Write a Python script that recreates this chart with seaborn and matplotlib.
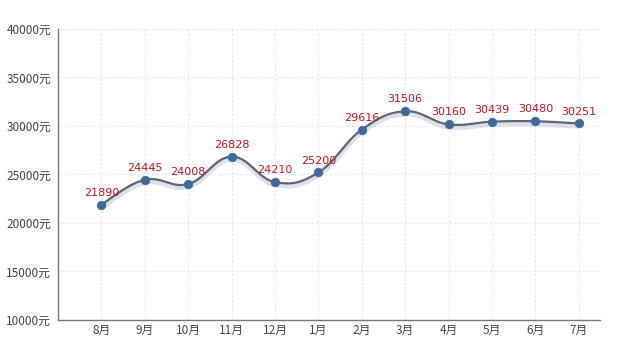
import numpy as np
import pandas as pd
import matplotlib
matplotlib.use("Agg")
import matplotlib.pyplot as plt
import seaborn as sns

months = ["8月", "9月", "10月", "11月", "12月", "1月", "2月", "3月", "4月", "5月", "6月", "7月"]
prices = [21890, 24445, 24008, 26828, 24210, 25200, 29616, 31506, 30160, 30439, 30480, 30251]
yticks = [10000, 15000, 20000, 25000, 30000, 35000, 40000]
ytick_labels = [f"{v}元" for v in yticks]

sns.set_style("white")
plt.rcParams['font.family'] = ['Noto Sans CJK SC', 'DejaVu Sans']

fig = plt.figure(figsize=(6.2, 3.48), dpi=100)
ax = fig.add_axes([0.0935, 0.0805, 0.875, 0.8365])

df = pd.DataFrame({"x": np.arange(1, len(months) + 1), "price": prices})

# smooth rendering of the line (bezier through the data points, like a "smooth" line style)
def smooth(x, y, s=0.2, n=30):
    p = np.column_stack([np.asarray(x, float), np.asarray(y, float)])
    m = len(p)
    out = []
    t = np.linspace(0, 1, n)[:, None]
    for i in range(m - 1):
        p0 = p[i]; p3 = p[i + 1]
        prev = p[i - 1] if i > 0 else p[i]
        nxt = p[i + 2] if i + 2 < m else p[i + 1]
        c1 = p0 + (p3 - prev) * s
        c2 = p3 - (nxt - p0) * s
        seg = ((1 - t) ** 3) * p0 + 3 * ((1 - t) ** 2) * t * c1 + 3 * (1 - t) * t ** 2 * c2 + t ** 3 * p3
        out.append(seg if i == 0 else seg[1:])
    seg = np.vstack(out)
    return seg[:, 0], seg[:, 1]

sx, sy = smooth(df["x"], df["price"])
# shadow
ax.plot(sx, sy - 250, color="#b8c4d4", lw=4, alpha=0.5, zorder=2)
ax.plot(sx, sy, color="#5f6670", lw=1.6, zorder=3)
sns.scatterplot(data=df, x="x", y="price", ax=ax, s=38, color="#3d6a9c",
                edgecolor="#3d6a9c", zorder=4, legend=False)

for xi, yi in zip(df["x"], df["price"]):
    ax.annotate(f"{yi}", (xi, yi), xytext=(0, 5), textcoords="offset points",
                ha="center", va="bottom", color="#cc1122", fontsize=8,
                family=['DejaVu Sans'])

ax.set_xlim(0, 12.5)
ax.set_ylim(10000, 40000)
ax.set_yticks(yticks)
ax.set_yticklabels(ytick_labels)
ax.set_xticks(df["x"])
ax.set_xticklabels(months)
ax.set_xlabel(""); ax.set_ylabel("")

ax.grid(True, color="#e6e6e6", linestyle=(0, (2, 2)), lw=0.8)
ax.set_axisbelow(True)
for s in ["top", "right"]:
    ax.spines[s].set_visible(False)
for s in ["left", "bottom"]:
    ax.spines[s].set_color("#777777")
    ax.spines[s].set_linewidth(1.0)
ax.tick_params(axis="y", length=3, color="#999999", labelsize=8.5, labelcolor="#444444", pad=2)
ax.tick_params(axis="x", length=0, labelsize=8.5, labelcolor="#444444", pad=3)

fig.savefig("out.png", dpi=100)
